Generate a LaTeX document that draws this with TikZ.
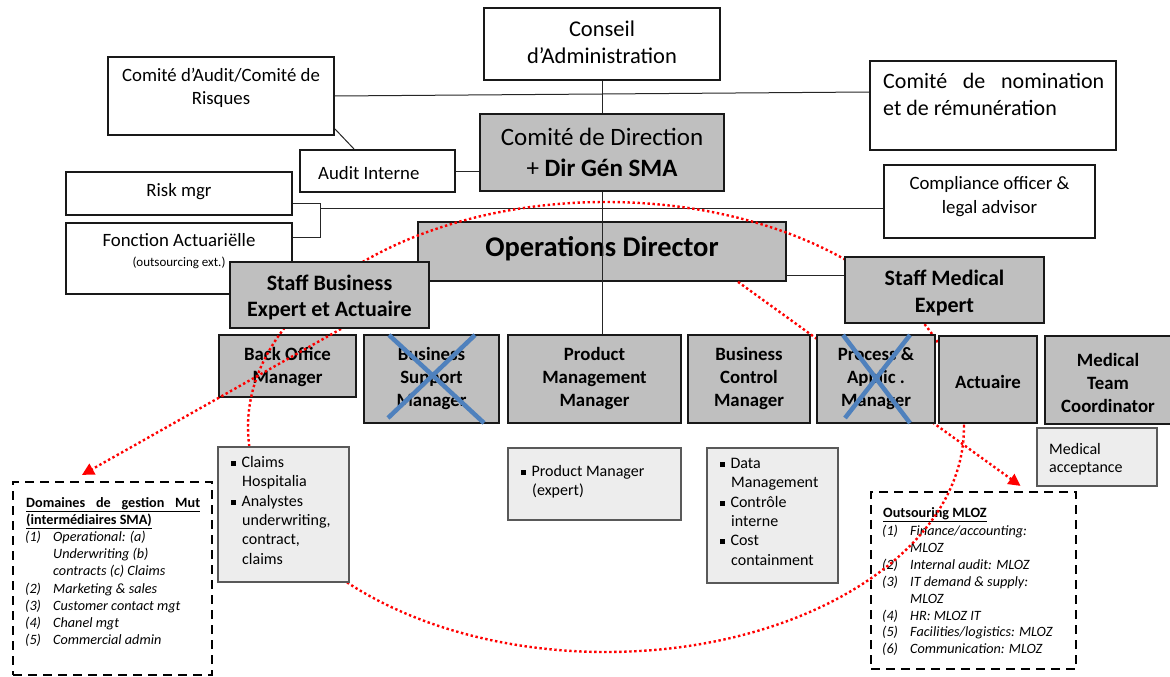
\documentclass[tikz,border=0pt]{standalone}
\usepackage{fontspec}
\setmainfont{Carlito}
\usetikzlibrary{arrows.meta}
\definecolor{xblue}{RGB}{79,129,189}
\newcommand\fsA{\fontsize{18.8}{22}\selectfont}
\newcommand\fsB{\fontsize{22.5}{26}\selectfont}
\newcommand\fsC{\fontsize{25}{29}\selectfont}
\newcommand\fsS{\fontsize{13}{15}\selectfont}
\newcommand\fsL{\fontsize{16}{19}\selectfont}
\newcommand\fsM{\fontsize{14.2}{17}\selectfont}
\newcommand\fsN{\fontsize{22}{26}\selectfont}
\newcommand\fsO{\fontsize{28.5}{33}\selectfont\bfseries}
\newcommand\fsT{\fontsize{22}{26}\selectfont\bfseries}
\newcommand\sqbul{\raisebox{1.6pt}{\rule{4.8pt}{4.8pt}}}
\pgfdeclarelayer{back}
\pgfdeclarelayer{mid}
\pgfsetlayers{back,mid,main}
\tikzset{
 wbox/.style={draw=black!90, line width=1.8pt, fill=white, inner sep=0pt},
 gbox/.style={wbox, fill=black!25},
 lbox/.style={draw=black!65, line width=1.2pt, fill=black!7, inner sep=0pt},
 dbox/.style={draw=black, line width=2.2pt, dash pattern=on 9pt off 6pt, inner sep=0pt},
 conn/.style={draw=black!85, line width=1pt},
 reddot/.style={draw=red, line width=2.4pt, dash pattern=on 2.4pt off 2.6pt},
 bluex/.style={draw=xblue, line width=4.5pt},
 tx/.style={anchor=base, inner sep=0pt},
 tl/.style={anchor=base west, inner sep=0pt},
 redtip/.style={-{Triangle[length=12pt,width=12pt]}},
}
\begin{document}
\begin{tikzpicture}[x=1pt,y=-1pt]
\useasboundingbox (0,0) rectangle (1170,677);
\begin{pgfonlayer}{back}
% ---------- top level boxes
\node[wbox, minimum width=236pt, minimum height=72pt] (conseil) at (602,44) {};
\node[tx, font=\fsB] (conseil1) at (602,37) {Conseil};
\node[tx, font=\fsB] (conseil2) at (602,63.5) {d’Administration};

\node[wbox, minimum width=226pt, minimum height=78pt] (audit) at (221,96) {};
\node[tx, font=\fsA] (audit1) at (221,81.5) {Comité d’Audit/Comité de};
\node[tx, font=\fsA] (audit2) at (221,104.5) {Risques};

\node[wbox, minimum width=246pt, minimum height=89pt] (nom) at (993,105.5) {};
\node[tl, font=\fsN] (nom1) at (883,88.5) {\hbox to 221pt{Comité\hfill de\hfill nomination}};
\node[tl, font=\fsN] (nom2) at (883,115) {et de rémunération};

\node[gbox, minimum width=244pt, minimum height=77pt] (cdd) at (602,152.5) {};
\node[tx, font=\fsC] (cdd1) at (602,145) {Comité de Direction};
\node[tx, font=\fsC] (cdd2) at (602,176) {+ \textbf{Dir Gén SMA}};

\node[wbox, minimum width=155pt, minimum height=42pt] (auditint) at (377.5,171) {};
\node[tl, font=\fsA] (auditint1) at (318,179.5) {Audit Interne};

\node[wbox, minimum width=226pt, minimum height=43pt] (risk) at (179,193.5) {};
\node[tx, font=\fsA] (risk1) at (179,196.5) {Risk mgr};

\node[wbox, minimum width=226pt, minimum height=71pt] (fonct) at (179,258.5) {};
\node[tx, font=\fsA] (fonct1) at (179,246.5) {Fonction Actuariëlle};
\node[tx, font=\fsS] (fonct2) at (179,266) {(outsourcing ext.)};

\node[wbox, minimum width=211pt, minimum height=73pt] (comp) at (989.5,201.5) {};
\node[tx, font=\fsA] (comp1) at (989.5,189.5) {Compliance officer \&};
\node[tx, font=\fsA] (comp2) at (989.5,213.5) {legal advisor};

\node[gbox, minimum width=368pt, minimum height=59pt] (ops) at (602,251.5) {};
\node[tx, font=\fsO] (ops1) at (602,256) {Operations Director};

% ---------- connectors
\draw[conn] (conseil.south) -- (cdd.north);
\draw[conn] (audit.east) -- ([yshift=13.5pt]nom.west);
\draw[conn] ([yshift=7pt]audit.south east) -- ([xshift=55pt]auditint.north west);
\draw[conn] (auditint.east) -- (auditint.east -| cdd.west);
\draw[conn] ([yshift=-9.5pt]risk.east) -- ++(28,0) -- ++(0,34) -- ([yshift=21.5pt]fonct.east);
\coordinate (rjm) at (320,208);
\draw[conn] (rjm) -- (rjm -| comp.west);

% ---------- manager row (lower layer)
\node[gbox, minimum width=137pt, minimum height=62pt] (bo) at (287.5,366) {};
\node[tx, font=\fsA\bfseries] (bo1) at (287.5,360.5) {Back Office};
\node[tx, font=\fsA\bfseries] (bo2) at (287.5,383) {Manager};

\node[gbox, minimum width=135pt, minimum height=88pt] (bs) at (431.5,379) {};
\node[tx, font=\fsA\bfseries] (bs1) at (431.5,360) {Business};
\node[tx, font=\fsA\bfseries] (bs2) at (431.5,383) {Support};
\node[tx, font=\fsA\bfseries] (bs3) at (431.5,406) {Manager};

\node[gbox, minimum width=173pt, minimum height=88pt] (pm) at (594.5,379) {};
\node[tx, font=\fsA\bfseries] (pm1) at (594.5,360) {Product};
\node[tx, font=\fsA\bfseries] (pm2) at (594.5,383) {Management};
\node[tx, font=\fsA\bfseries] (pm3) at (594.5,406) {Manager};

\draw[conn] (cdd.south) -- (cdd.south |- pm.north);

\node[gbox, minimum width=122pt, minimum height=88pt] (bc) at (749,379) {};
\node[tx, font=\fsA\bfseries] (bc1) at (749,360) {Business};
\node[tx, font=\fsA\bfseries] (bc2) at (749,383) {Control};
\node[tx, font=\fsA\bfseries] (bc3) at (749,406) {Manager};

\node[gbox, minimum width=127pt, minimum height=88pt] (mtc) at (1108.5,380) {};
\node[tx, font=\fsA\bfseries] (mtc1) at (1108,366.5) {Medical};
\node[tx, font=\fsA\bfseries] (mtc2) at (1108,389) {Team};
\node[tx, font=\fsA\bfseries] (mtc3) at (1108,412) {Coordinator};

% ---------- detail boxes
\node[lbox, minimum width=173pt, minimum height=72pt] (pmgr) at (594.5,484) {};
\node[tl, font=\fsL] (pmgr1) at (521,476.5) {\sqbul\hspace{5.5pt}Product Manager};
\node[tl, font=\fsL] (pmgr2) at (532,495.5) {(expert)};

\node[lbox, minimum width=131pt, minimum height=135pt] (data) at (772.5,515.5) {};
\node[tl, font=\fsL] (data1) at (720,468.5) {\sqbul\hspace{5.5pt}Data};
\node[tl, font=\fsL] (data2) at (731,487.8) {Management};
\node[tl, font=\fsL] (data3) at (720,507.1) {\sqbul\hspace{5.5pt}Contrôle};
\node[tl, font=\fsL] (data4) at (731,526.4) {interne};
\node[tl, font=\fsL] (data5) at (720,545.7) {\sqbul\hspace{5.5pt}Cost};
\node[tl, font=\fsL] (data6) at (731,565) {containment};

\node[lbox, minimum width=120pt, minimum height=58pt] (medacc) at (1097,457) {};
\node[tl, font=\fsL] (medacc1) at (1049,454.5) {Medical};
\node[tl, font=\fsL] (medacc2) at (1049,472.5) {acceptance};

% ---------- dashed boxes
\node[dbox, minimum width=199pt, minimum height=193pt] (dom) at (112.5,578.5) {};
\node[tl, font=\fsM\bfseries] (domh1) at (26,507) {\underline{\hbox to 174pt{Domaines\hfill de\hfill gestion\hfill Mut}}};
\node[tl, font=\fsM\bfseries] (domh2) at (26,524.5) {\underline{(intermédiaires SMA)}};
\node[tl, font=\fsM\itshape] (domn1) at (25,541.5) {(1)};
\node[tl, font=\fsM\itshape] (doml1) at (53,541.5) {Operational: (a)};
\node[tl, font=\fsM\itshape] (doml2) at (53,558.7) {Underwriting (b)};
\node[tl, font=\fsM\itshape] (doml3) at (53,575.9) {contracts (c) Claims};
\node[tl, font=\fsM\itshape] (domn2) at (25,593.1) {(2)};
\node[tl, font=\fsM\itshape] (doml4) at (53,593.1) {Marketing \& sales};
\node[tl, font=\fsM\itshape] (domn3) at (25,610.3) {(3)};
\node[tl, font=\fsM\itshape] (doml5) at (53,610.3) {Customer contact mgt};
\node[tl, font=\fsM\itshape] (domn4) at (25,627.5) {(4)};
\node[tl, font=\fsM\itshape] (doml6) at (53,627.5) {Chanel mgt};
\node[tl, font=\fsM\itshape] (domn5) at (25,644.7) {(5)};
\node[tl, font=\fsM\itshape] (doml7) at (53,644.7) {Commercial admin};

\node[dbox, minimum width=205pt, minimum height=177pt] (outs) at (973.5,580.5) {};
\node[tl, font=\fsM\bfseries] (outsh) at (883,517.5) {\underline{Outsouring MLOZ}};
\node[tl, font=\fsM\itshape] (outsn1) at (882,535.5) {(1)};
\node[tl, font=\fsM\itshape] (outsl1) at (910,535.5) {Finance/accounting:};
\node[tl, font=\fsM\itshape] (outsl2) at (910,552.4) {MLOZ};
\node[tl, font=\fsM\itshape] (outsn2) at (882,569.3) {(2)};
\node[tl, font=\fsM\itshape] (outsl3) at (910,569.3) {Internal audit: MLOZ};
\node[tl, font=\fsM\itshape] (outsn3) at (882,586.2) {(3)};
\node[tl, font=\fsM\itshape] (outsl4) at (910,586.2) {IT demand \& supply:};
\node[tl, font=\fsM\itshape] (outsl5) at (910,603.1) {MLOZ};
\node[tl, font=\fsM\itshape] (outsn4) at (882,620) {(4)};
\node[tl, font=\fsM\itshape] (outsl6) at (910,620) {HR: MLOZ IT};
\node[tl, font=\fsM\itshape] (outsn5) at (882,636.9) {(5)};
\node[tl, font=\fsM\itshape] (outsl7) at (910,636.9) {Facilities/logistics: MLOZ};
\node[tl, font=\fsM\itshape] (outsn6) at (882,653.8) {(6)};
\node[tl, font=\fsM\itshape] (outsl8) at (910,653.8) {Communication: MLOZ};
\end{pgfonlayer}

% ---------- upper layer boxes
\node[gbox, minimum width=199pt, minimum height=66pt] (sbus) at (329.5,295) {};
\node[tx, font=\fsT] (sbus1) at (329.5,290) {Staff Business};
\node[tx, font=\fsT] (sbus2) at (329.5,316) {Expert et Actuaire};

\node[gbox, minimum width=199pt, minimum height=66pt] (smed) at (944.5,290) {};
\node[tx, font=\fsT] (smed1) at (944.5,285) {Staff Medical};
\node[tx, font=\fsT] (smed2) at (944.5,312) {Expert};

\begin{pgfonlayer}{back}
\draw[conn] ([yshift=-23.5pt]ops.east) -- ([yshift=-23.5pt]ops.east -| smed.west);
\end{pgfonlayer}

\node[gbox, minimum width=118pt, minimum height=88pt] (pa) at (876,379) {};
\node[tx, font=\fsA\bfseries] (pa1) at (876,360) {Process \&};
\node[tx, font=\fsA\bfseries] (pa2) at (876,383) {Applic .};
\node[tx, font=\fsA\bfseries] (pa3) at (876,406) {Manager};

\node[gbox, minimum width=98pt, minimum height=87pt] (act) at (988,379.5) {};
\node[tx, font=\fsA\bfseries] (act1) at (988,388) {Actuaire};

\node[lbox, minimum width=131pt, minimum height=135pt] (claims) at (283.5,514.5) {};
\node[tl, font=\fsL] (claims1) at (231,467.5) {\sqbul\hspace{5.5pt}Claims};
\node[tl, font=\fsL] (claims2) at (242,486.8) {Hospitalia};
\node[tl, font=\fsL] (claims3) at (231,506.1) {\sqbul\hspace{5.5pt}Analystes};
\node[tl, font=\fsL] (claims4) at (242,525.4) {underwriting,};
\node[tl, font=\fsL] (claims5) at (242,544.7) {contract,};
\node[tl, font=\fsL] (claims6) at (242,564) {claims};

% ---------- blue crosses
\draw[bluex] (389,335) -- (484,423);
\draw[bluex] (475,335) -- (388,418);
\draw[bluex] (843,335) -- (910,423);
\draw[bluex] (910,335) -- (845,418);

% ---------- red dotted links (middle layer)
\begin{pgfonlayer}{mid}
\coordinate (ellc) at (606,427);
\draw[reddot] (ellc) ellipse [x radius=358pt, y radius=225pt];
\draw[reddot, redtip] ([xshift=11.5pt]sbus.south) -- ([xshift=-30.5pt,yshift=6pt]dom.north);
\draw[reddot, redtip] ([xshift=136pt]ops.south) -- ([xshift=47pt,yshift=5pt]outs.north);
\end{pgfonlayer}
\end{tikzpicture}
\end{document}
